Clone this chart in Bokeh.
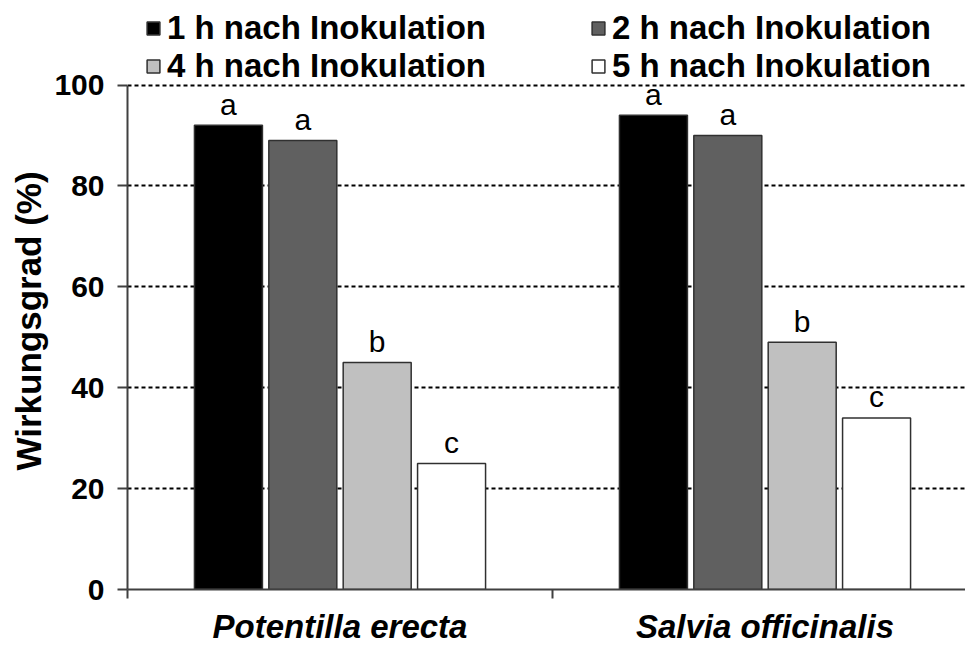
from bokeh.plotting import figure
from bokeh.models import Range1d, FixedTicker, Legend, LegendItem, Title, ColumnDataSource
from bokeh.core.properties import value
from bokeh.embed import file_html
from bokeh.resources import INLINE

categories = ["Potentilla erecta", "Salvia officinalis"]
series_names = ["1 h nach Inokulation", "2 h nach Inokulation",
                "4 h nach Inokulation", "5 h nach Inokulation"]
vals_1h = [92, 94]
vals_2h = [89, 90]
vals_4h = [45, 49]
vals_5h = [25, 34]
letters_1h = ["a", "a"]
letters_2h = ["a", "a"]
letters_4h = ["b", "b"]
letters_5h = ["c", "c"]
y_ticks = [0, 20, 40, 60, 80, 100]

series_vals = [vals_1h, vals_2h, vals_4h, vals_5h]
series_letters = [letters_1h, letters_2h, letters_4h, letters_5h]
colors = ["#000000", "#606060", "#c0c0c0", "#ffffff"]

FONT = "Liberation Sans"
W, H = 965, 653
BL, BB = 127, 64
frame_h = H - BB
px_per_unit = (frame_h - 84.5) / 100.0
y_top = frame_h / px_per_unit
x_top = (W - BL) / 425.0

p = figure(width=W, height=H, output_backend="svg", toolbar_location=None,
           x_range=Range1d(0, x_top), y_range=Range1d(0, y_top),
           min_border_left=BL, min_border_right=0, min_border_top=0,
           min_border_bottom=BB)
p.outline_line_color = None
p.background_fill_color = "white"
p.border_fill_color = "white"

# Gridlines
p.xgrid.visible = False
p.ygrid.ticker = FixedTicker(ticks=[t for t in y_ticks if t > 0])
p.ygrid.grid_line_color = "black"
p.ygrid.grid_line_width = 2
p.ygrid.grid_line_dash = "4 3"

renderers = []
step = 0.175
width = 0.16
for i, (vals, lets, col) in enumerate(zip(series_vals, series_letters, colors)):
    xs = [k + 0.5 + (i - 1.5) * step for k in range(len(categories))]
    src = ColumnDataSource(dict(x=xs, top=vals, lab=lets))
    r = p.vbar(x="x", top="top", bottom=0, width=width, source=src,
               fill_color=col, line_color="#303030", line_width=1.5)
    renderers.append(r)
    p.text(x="x", y="top", text="lab", source=src, y_offset=-21,
           text_align="center", text_baseline="alphabetic",
           text_font=value(FONT), text_font_size="30px", text_color="black")

# Y axis
yax = p.yaxis[0]
yax.ticker = FixedTicker(ticks=y_ticks, minor_ticks=[])
yax.bounds = (0, 100)
yax.axis_line_color = "#404040"
yax.axis_line_width = 2
yax.major_tick_line_color = "#404040"
yax.major_tick_line_width = 2
yax.major_tick_out = 10
yax.major_tick_in = 0
yax.minor_tick_line_color = None
yax.major_label_standoff = 13
yax.major_label_text_font = FONT
yax.major_label_text_font_style = "bold"
yax.major_label_text_font_size = "30px"
yax.major_label_text_color = "black"

# X axis
xax = p.xaxis[0]
xax.ticker = FixedTicker(ticks=[0.5, 1.5], minor_ticks=[0, 1, 2])
xax.major_label_overrides = {0.5: categories[0], 1.5: categories[1]}
xax.axis_line_color = "#404040"
xax.axis_line_width = 2
xax.major_tick_line_color = None
xax.major_tick_out = 0
xax.major_tick_in = 0
xax.minor_tick_line_color = "#404040"
xax.minor_tick_line_width = 2
xax.minor_tick_out = 9
xax.minor_tick_in = 0
xax.major_label_standoff = 9
xax.major_label_text_font = FONT
xax.major_label_text_font_style = "bold italic"
xax.major_label_text_font_size = "33px"
xax.major_label_text_color = "black"

# Y axis title
ytitle = Title(text="Wirkungsgrad (%)", align="left", offset=119, standoff=8,
               text_font=FONT, text_font_style="bold", text_font_size="35px",
               text_color="black")
p.add_layout(ytitle, "left")

# Legend
items = [LegendItem(label=n, renderers=[r]) for n, r in zip(series_names, renderers)]
legend = Legend(items=items, location=(18, 504), orientation="horizontal", ncols=2,
                glyph_width=16, glyph_height=16, label_standoff=6, label_width=423,
                spacing=0, padding=0, margin=0, border_line_color=None,
                background_fill_alpha=0, label_text_font=FONT,
                label_text_font_style="bold", label_text_font_size="33px",
                label_text_color="black")
p.add_layout(legend)

open("out.html", "w").write(file_html(p, INLINE))
